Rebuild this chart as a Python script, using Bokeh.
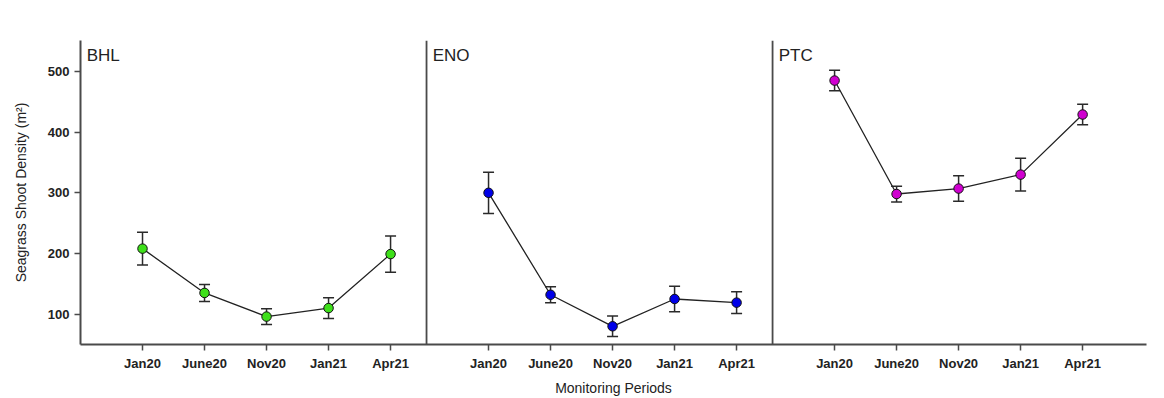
from bokeh.plotting import figure
from bokeh.models import (ColumnDataSource, Whisker, TeeHead, FixedTicker, Label,
                          Span, Range1d)
from bokeh.embed import file_html
from bokeh.resources import INLINE

# Monitoring periods and sites
periods = ["Jan20", "June20", "Nov20", "Jan21", "Apr21"]
sites = ["BHL", "ENO", "PTC"]

# Mean shoot density (per m2) and standard error for each site
bhl_mean = [208, 135, 96, 110, 199]
bhl_err = [27, 14, 13, 17, 30]
eno_mean = [300, 132, 80, 125, 119]
eno_err = [34, 13, 17, 21, 18]
ptc_mean = [485, 298, 307, 330, 429]
ptc_err = [17, 13, 21, 27, 17]

site_colors = ["#3ee01a", "#0000e8", "#d000d0"]

means = [bhl_mean, eno_mean, ptc_mean]
errs = [bhl_err, eno_err, ptc_err]

PANEL = 5.58          # width of one site panel in category steps
X_END = 17.19
FONT = "Liberation Sans"
AXIS_COLOR = "#4a4a4a"

p = figure(width=1164, height=398, output_backend="svg", toolbar_location=None,
           x_range=Range1d(0, X_END), y_range=Range1d(50, 551),
           min_border_left=80, min_border_right=18, min_border_top=40,
           min_border_bottom=54)
p.background_fill_color = "white"
p.border_fill_color = "white"
p.outline_line_color = None
p.grid.visible = False

tick_pos = []
tick_lab = {}
for k, site in enumerate(sites):
    xs = [k * PANEL + i + 1 for i in range(len(periods))]
    for x, lab in zip(xs, periods):
        tick_pos.append(x)
        tick_lab[x] = lab
    src = ColumnDataSource(dict(
        x=xs, y=means[k],
        lo=[m - e for m, e in zip(means[k], errs[k])],
        hi=[m + e for m, e in zip(means[k], errs[k])]))
    w = Whisker(base="x", lower="lo", upper="hi", source=src,
                line_color="#2a2a2a", line_width=1.5,
                upper_head=TeeHead(size=11, line_color="#2a2a2a", line_width=1.5),
                lower_head=TeeHead(size=11, line_color="#2a2a2a", line_width=1.5))
    p.add_layout(w)
    p.line("x", "y", source=src, line_color="#222222", line_width=1.3)
    p.scatter("x", "y", source=src, size=9.5, fill_color=site_colors[k],
              line_color="#111111", line_width=1)
    if k > 0:
        p.add_layout(Span(location=k * PANEL, dimension="height",
                          line_color=AXIS_COLOR, line_width=1.8))
    p.add_layout(Label(x=k * PANEL + 0.1, y=551, y_offset=-5, text=site,
                       text_font=FONT, text_font_size="17px",
                       text_color="#222222", text_baseline="top"))

p.xaxis.ticker = FixedTicker(ticks=tick_pos)
p.xaxis.major_label_overrides = tick_lab
p.xaxis.major_label_text_font = FONT
p.xaxis.major_label_text_font_size = "13px"
p.xaxis.major_label_text_font_style = "bold"
p.xaxis.major_label_text_color = "#222222"
p.xaxis.major_label_standoff = 5
p.xaxis.major_tick_out = 6
p.xaxis.major_tick_in = 0
p.xaxis.minor_tick_line_color = None
p.xaxis.axis_line_color = AXIS_COLOR
p.xaxis.axis_line_width = 2
p.xaxis.major_tick_line_color = AXIS_COLOR
p.xaxis.major_tick_line_width = 1.5
p.xaxis.axis_label = "Monitoring Periods"
p.xaxis.axis_label_text_font = FONT
p.xaxis.axis_label_text_font_size = "14px"
p.xaxis.axis_label_text_font_style = "normal"
p.xaxis.axis_label_text_color = "#222222"
p.xaxis.axis_label_standoff = 6

p.yaxis.ticker = FixedTicker(ticks=[100, 200, 300, 400, 500])
p.yaxis.major_label_text_font = FONT
p.yaxis.major_label_text_font_size = "13px"
p.yaxis.major_label_text_font_style = "bold"
p.yaxis.major_label_text_color = "#222222"
p.yaxis.major_tick_out = 6
p.yaxis.major_tick_in = 0
p.yaxis.minor_tick_line_color = None
p.yaxis.axis_line_color = AXIS_COLOR
p.yaxis.axis_line_width = 2
p.yaxis.major_tick_line_color = AXIS_COLOR
p.yaxis.major_tick_line_width = 1.5
p.yaxis.axis_label = "Seagrass Shoot Density (m\u00b2)"
p.yaxis.axis_label_text_font = FONT
p.yaxis.axis_label_text_font_size = "14px"
p.yaxis.axis_label_text_font_style = "normal"
p.yaxis.axis_label_text_color = "#222222"
p.yaxis.axis_label_standoff = 16

open("out.html", "w").write(file_html(p, INLINE))
